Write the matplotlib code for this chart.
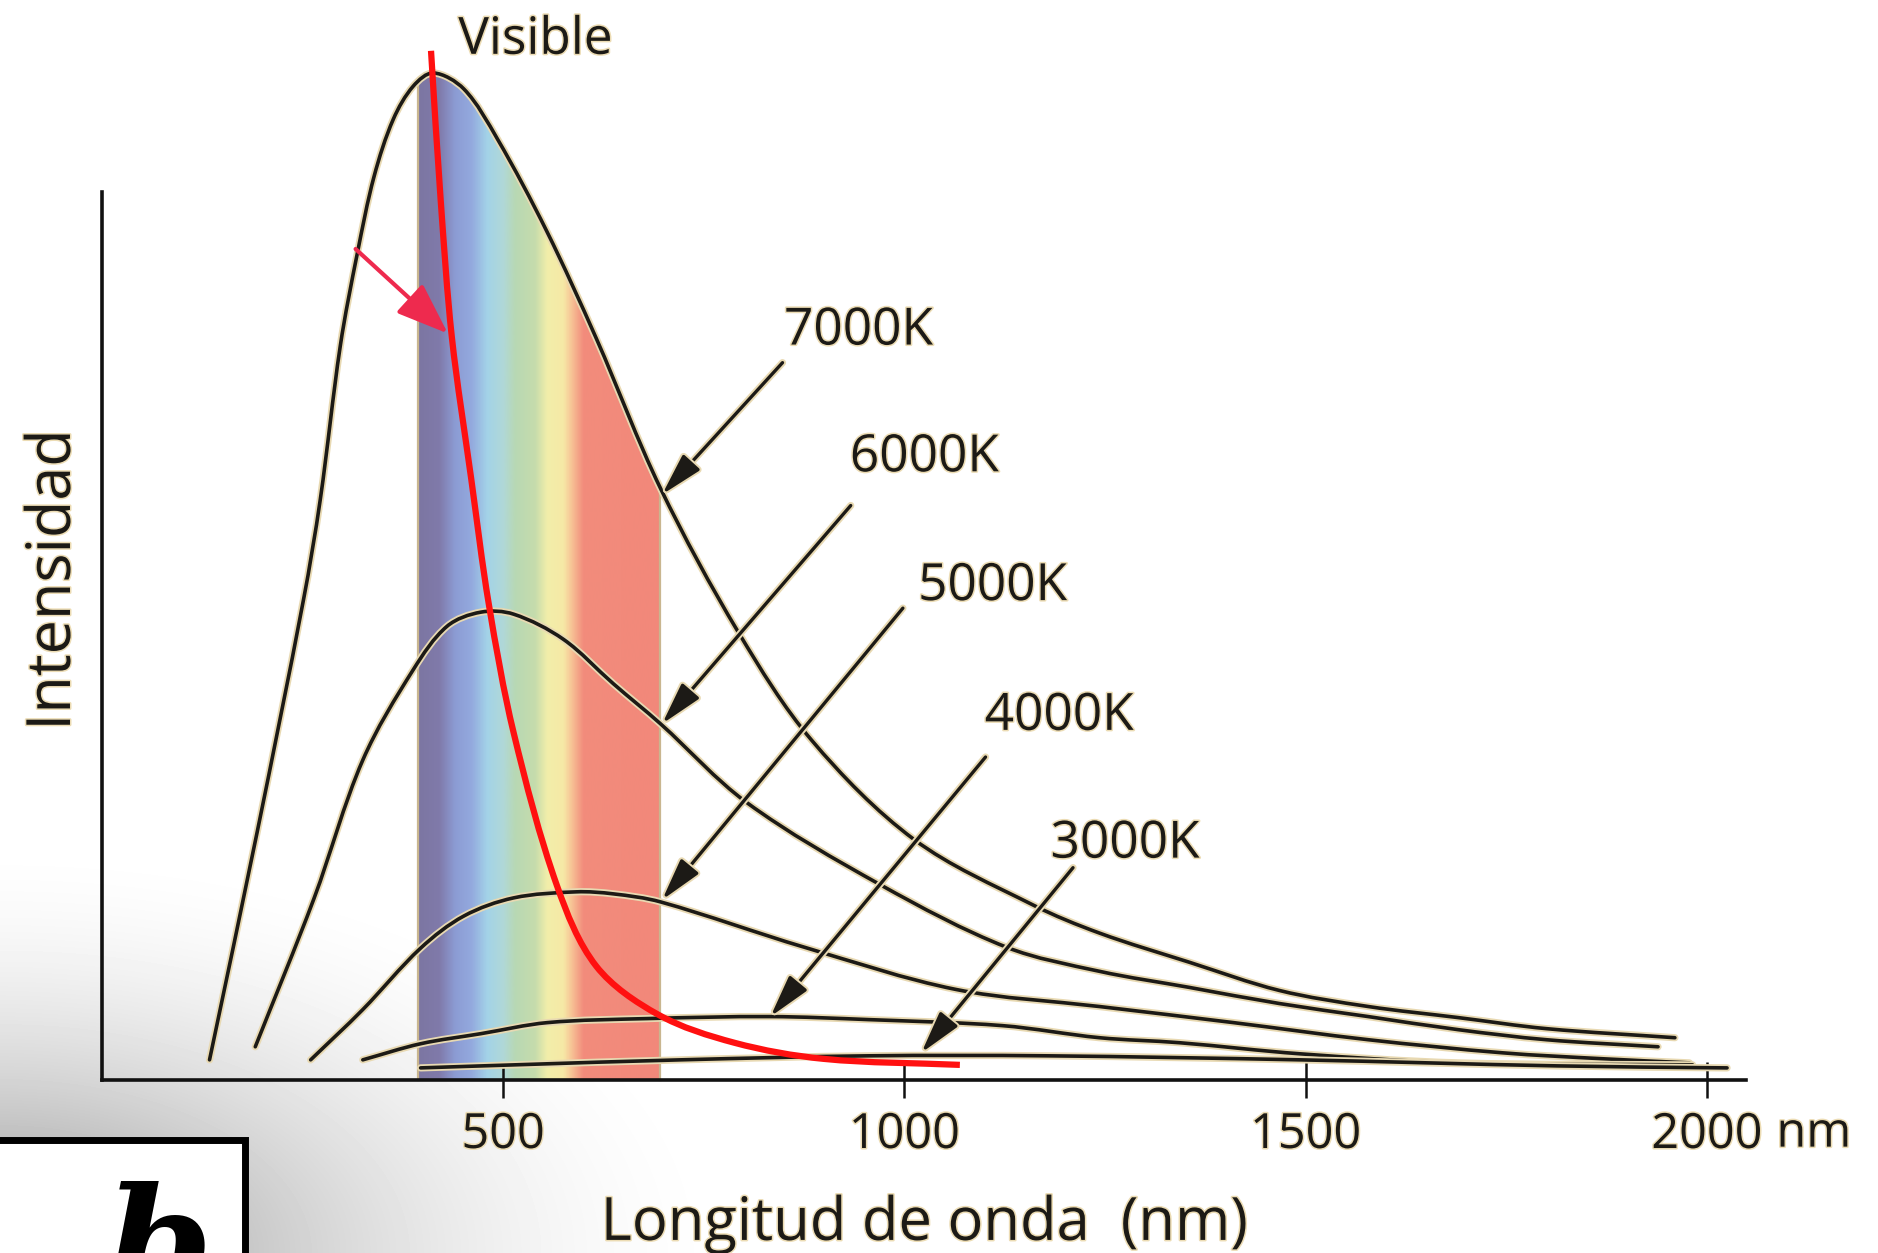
import numpy as np
import matplotlib
matplotlib.use('Agg')
import matplotlib.pyplot as plt
import matplotlib.patheffects as pe
from matplotlib.colors import LinearSegmentedColormap
from matplotlib.patches import Polygon, Rectangle, PathPatch
from matplotlib.path import Path

### Data: wavelength / nm, intensity / a.u. (7000K peak ~ 100)
wl_7000 = [134, 193, 251, 272, 297, 318, 339, 363, 388, 413, 451, 493, 554, 616, 696,
           793, 884, 1012, 1160, 1243, 1355, 1467, 1578, 1690, 1800, 1960]
int_7000 = [2.0, 24.5, 47.7, 57.7, 73.0, 82.1, 89.8, 95.5, 98.8, 100.1, 98.5, 93.5, 84.4, 73.7, 58.8,
            44.5, 33.8, 23.9, 17.4, 14.6, 11.7, 8.9, 7.3, 6.2, 5.1, 4.2]

wl_6000 = [191, 264, 325, 388, 430, 472, 513, 575, 637, 696, 803, 970, 1127, 1243, 1355,
           1467, 1578, 1690, 1800, 1939]
int_6000 = [3.3, 18.0, 31.8, 40.8, 45.1, 46.5, 46.3, 43.8, 39.4, 35.4, 27.6, 19.4, 13.2, 10.8, 9.2,
            7.6, 6.3, 5.0, 4.0, 3.3]

wl_5000 = [260, 325, 397, 451, 513, 591, 637, 696, 875, 1064, 1243, 1410, 1578, 1745, 1872, 1978]
int_5000 = [2.0, 7.0, 13.1, 16.3, 18.1, 18.7, 18.5, 17.7, 13.2, 9.0, 7.3, 5.7, 4.0, 2.7, 2.1, 1.7]

wl_4000 = [325, 397, 472, 555, 679, 833, 955, 1122, 1243, 1343, 1493, 1690, 1982]
int_4000 = [2.0, 3.6, 4.6, 5.7, 6.1, 6.3, 6.0, 5.4, 4.2, 3.7, 2.6, 1.7, 1.5]

wl_3000 = [397, 513, 721, 955, 1178, 1493, 1813, 2025]
int_3000 = [1.2, 1.5, 2.0, 2.4, 2.4, 2.0, 1.4, 1.2]

# Wien displacement (red)
wl_red = [410, 422, 436, 460, 482, 513, 567, 616, 693, 788, 899, 1069]
int_red = [102.3, 87.5, 73.8, 59.8, 47.3, 34.5, 19.3, 11.3, 6.5, 3.7, 2.1, 1.5]

# labels + arrows
temps = ['7000K', '6000K', '5000K', '4000K', '3000K']
label_wl = [943, 1025, 1110, 1193, 1275]
label_int = [73.1, 60.5, 47.7, 34.8, 22.1]
tail_wl = [848, 933, 998, 1101, 1210]
tail_int = [71.3, 57.1, 46.9, 32.1, 21.1]
tip_wl = [698, 698, 698, 833, 1021]
tip_int = [58.2, 35.4, 17.9, 6.3, 2.7]

red_arrow_tail = (316, 82.6)
red_arrow_tip = (431, 74.2)

# visible band
band_wl = [394, 695]
band_stop_wl = [394, 420, 440, 460, 480, 500, 515, 540, 555, 575, 585, 600, 695]
band_stop_col = ['#7c76a2', '#807aaa', '#8c9cd4', '#93a9de', '#a3d3e8', '#b0d8d8', '#b8d8b4',
                 '#c6dcac', '#f2eeaa', '#f6e9a6', '#f7c496', '#f28c7c', '#f2887a']

tick_pos = [500, 1000, 1500, 2000]
tick_labels = ['500', '1000', '1500', '2000']

curves = [(wl_7000, int_7000), (wl_6000, int_6000), (wl_5000, int_5000),
          (wl_4000, int_4000), (wl_3000, int_3000)]

INK = '#1c1a16'
CREAM = '#e8d9b2'


def bezier_segments(xs, ys):
    '''smooth cubic segments through the read points (tangents from chord length)'''
    P = np.column_stack([xs, ys]).astype(float)
    S = P * [0.8025, 10.06]
    t = np.concatenate([[0], np.cumsum(np.hypot(*np.diff(S, axis=0).T))])
    n = len(P)
    m = np.zeros_like(P)
    for i in range(n):
        a, b = max(i - 1, 0), min(i + 1, n - 1)
        m[i] = (P[b] - P[a]) / (t[b] - t[a])
    segs = []
    for i in range(n - 1):
        h = t[i + 1] - t[i]
        segs.append((P[i], P[i] + m[i] * h / 3, P[i + 1] - m[i + 1] * h / 3, P[i + 1]))
    return segs


def smooth_path(xs, ys):
    segs = bezier_segments(xs, ys)
    verts = [segs[0][0]]
    codes = [Path.MOVETO]
    for s in segs:
        verts += [s[1], s[2], s[3]]
        codes += [Path.CURVE4] * 3
    return Path(verts, codes)


def eval_curve(xs, ys, k=30):
    u = np.linspace(0, 1, k)[:, None]
    pts = []
    for p0, c1, c2, p3 in bezier_segments(xs, ys):
        pts.append((1 - u) ** 3 * p0 + 3 * (1 - u) ** 2 * u * c1 + 3 * (1 - u) * u ** 2 * c2 + u ** 3 * p3)
    return np.vstack(pts)


def main():
    plt.rcParams['font.family'] = ['Open Sans', 'DejaVu Sans']
    fig = plt.figure(figsize=(18.78, 12.53), dpi=100)

    # grey shadow in the lower left corner
    bg = fig.add_axes([0, 0, 1, 1], zorder=-1)
    yy, xx = np.mgrid[0:1253, 0:1878]
    d = np.sqrt((xx / 750.0) ** 2 + ((1253 - yy) / 420.0) ** 2)
    shade = 255 - 115 * np.clip(1 - d, 0, 1) ** 1.84
    bg.imshow(shade, cmap='gray', vmin=0, vmax=255, aspect='auto', interpolation='bilinear')
    bg.set_axis_off()

    ax = fig.add_axes([0, 0, 1, 1])
    ax.patch.set_alpha(0)

    # spectrum band, cut by the 7000K curve
    dense = eval_curve(wl_7000, int_7000)
    inside = (dense[:, 0] > band_wl[0]) & (dense[:, 0] < band_wl[1])
    top0 = np.interp(band_wl[0], dense[:, 0], dense[:, 1])
    top1 = np.interp(band_wl[1], dense[:, 0], dense[:, 1])
    verts = ([(band_wl[0], 0), (band_wl[0], top0)] + [tuple(p) for p in dense[inside]]
             + [(band_wl[1], top1), (band_wl[1], 0)])
    clip = Polygon(verts, closed=True, facecolor='none', edgecolor='none')
    ax.add_patch(clip)
    pos = [(w - band_wl[0]) / (band_wl[1] - band_wl[0]) for w in band_stop_wl]
    cmap = LinearSegmentedColormap.from_list('vis', list(zip(pos, band_stop_col)))
    grad = np.linspace(0, 1, 600).reshape(1, -1)
    im = ax.imshow(grad, cmap=cmap, vmin=0, vmax=1, aspect='auto', interpolation='bilinear',
                   extent=(band_wl[0], band_wl[1], 0, 105), zorder=1)
    im.set_clip_path(clip)
    for w, t in [(band_wl[0], top0), (band_wl[1], top1)]:
        ax.plot([w, w], [0, t], color='#c9b68f', lw=1.6, zorder=1.5)

    halo = [pe.Stroke(linewidth=5.2, foreground=CREAM), pe.Normal()]
    for wl, inten in curves:
        ax.add_patch(PathPatch(smooth_path(wl, inten), facecolor='none', edgecolor=INK, lw=2.6,
                               capstyle='round', joinstyle='round', zorder=3, path_effects=halo))

    ax.add_patch(PathPatch(smooth_path(wl_red, int_red), facecolor='none', edgecolor='#ff1010',
                           lw=4.5, capstyle='butt', zorder=5))

    ax.annotate('', xy=red_arrow_tip, xytext=red_arrow_tail, zorder=6,
                arrowprops=dict(arrowstyle='-|>,head_length=1.6,head_width=0.6', color='#ee2a4e',
                                lw=3.0, mutation_scale=20, shrinkA=0, shrinkB=0))

    txt_halo = [pe.withStroke(linewidth=2.2, foreground='#ecdcb4')]
    for t, lx, ly, tx, ty, hx, hy in zip(temps, label_wl, label_int, tail_wl, tail_int, tip_wl, tip_int):
        ax.annotate('', xy=(hx, hy), xytext=(tx, ty), zorder=7,
                    arrowprops=dict(arrowstyle='-|>,head_length=1.3,head_width=0.35', color=INK,
                                    lw=2.4, mutation_scale=20, shrinkA=0, shrinkB=0,
                                    path_effects=halo))
        ax.text(lx, ly, t, fontsize=37, color=INK, ha='center', va='baseline', zorder=8,
                path_effects=txt_halo)

    ax.text(540, 102.0, 'Visible', fontsize=37, color=INK, ha='center', va='baseline',
            path_effects=txt_halo)
    ax.text(-39.9, 49.7, 'Intensidad', fontsize=44, color=INK, rotation=90, rotation_mode='anchor',
            ha='center', va='baseline', path_effects=txt_halo)
    ax.text(1025, -15.9, 'Longitud de onda  (nm)', fontsize=43, color=INK, ha='center',
            va='baseline', path_effects=txt_halo)

    # axes
    for s in ['top', 'right']:
        ax.spines[s].set_visible(False)
    ax.spines['left'].set_position(('data', 0))
    ax.spines['left'].set_bounds(0, 88.3)
    ax.spines['bottom'].set_position(('data', 0))
    ax.spines['bottom'].set_bounds(0, 2049)
    for s in ['left', 'bottom']:
        ax.spines[s].set_linewidth(2.6)
        ax.spines[s].set_color('#111111')
    ax.set_yticks([])
    ax.set_xticks(tick_pos)
    ax.set_xticklabels(tick_labels)
    ax.tick_params(axis='x', direction='inout', length=26, width=1.8, pad=9, labelsize=35,
                   colors='#111111', labelcolor=INK)
    for lbl in ax.get_xticklabels():
        lbl.set_path_effects(txt_halo)
    ax.annotate('nm', xy=(2000, 0), xytext=(50, -48), textcoords='offset points', fontsize=35,
                color=INK, ha='left', va='baseline', path_effects=txt_halo)

    ax.set_xlim(-127.1, 2213.1)
    ax.set_ylim(-17.2, 107.35)

    # panel letter box
    box = Rectangle((-0.01, -0.05), 0.1402, 0.1398, transform=fig.transFigure, facecolor='white',
                    edgecolor='black', lw=5, zorder=10)
    fig.add_artist(box)
    fig.text(0.056, -0.036, 'b', fontsize=110, family='DejaVu Serif', style='italic',
             weight='bold', ha='left', va='baseline', zorder=11)

    fig.savefig('out.png', dpi=100)


if __name__ == "__main__":
    main()
